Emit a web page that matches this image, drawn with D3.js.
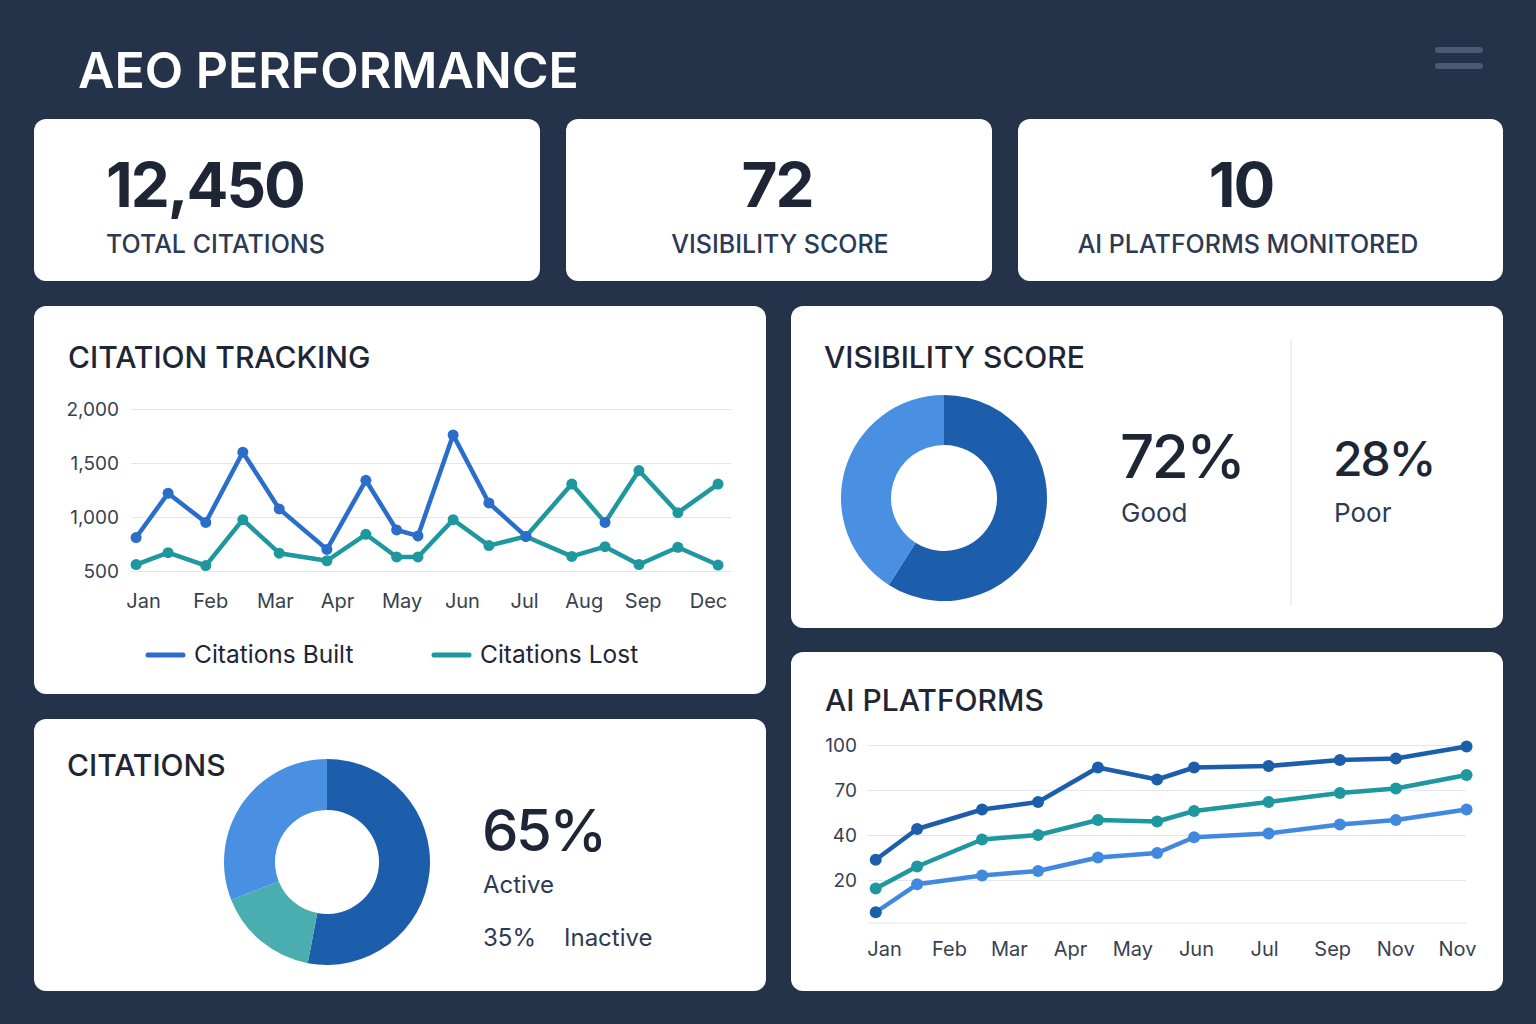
<!DOCTYPE html>
<html>
<head>
<meta charset="utf-8">
<script src="https://cdn.jsdelivr.net/npm/d3@7"></script>
<style>
  html, body { margin: 0; padding: 0; background: #24324a; }
  svg { display: block; font-family: Inter, "Noto Sans", sans-serif; }
</style>
</head>
<body>
<div id="dash"></div>
<script>
// ---- data ----
const kpiValues = ["12,450", "72", "10"];
const kpiLabels = ["TOTAL CITATIONS", "VISIBILITY SCORE", "AI PLATFORMS MONITORED"];

const trackMonths = ["Jan", "Feb", "Mar", "Apr", "May", "Jun", "Jul", "Aug", "Sep", "Dec"];
// label and point positions, measured in month-label steps
const trackMonthPos = [0, 1.07, 2.10, 3.09, 4.12, 5.08, 6.07, 7.02, 7.96, 9];
const trackPos = [-0.11, 0.40, 1.00, 1.59, 2.17, 2.93, 3.55, 4.04, 4.38, 4.94, 5.51, 6.10, 6.83, 7.36, 7.90, 8.52, 9.16];
const trackTicks = [500, 1000, 1500, 2000];
const citationsBuilt = [810, 1220, 950, 1600, 1075, 700, 1340, 880, 825, 1760, 1130, 820, 1305, 950, 1430, 1040, 1305];
const citationsLost = [560, 670, 550, 975, 665, 595, 840, 630, 630, 975, 735, 820, 635, 725, 560, 720, 555];
const trackSeries = ["Citations Built", "Citations Lost"];

const visibilitySlices = [59, 41];
const visibilityPct = ["72%", "28%"];
const visibilityNames = ["Good", "Poor"];

const citationSlices = [53, 16, 31];
const citationPct = ["65%", "35%"];
const citationNames = ["Active", "Inactive"];

const platformMonths = ["Jan", "Feb", "Mar", "Apr", "May", "Jun", "Jul", "Sep", "Nov", "Nov"];
const platformMonthPos = [0, 1.02, 1.96, 2.92, 3.90, 4.90, 5.97, 7.04, 8.03, 9];
const platformPos = [-0.13, 0.52, 1.54, 2.42, 3.36, 4.29, 4.87, 6.04, 7.16, 8.04, 9.15];
const platformTicks = [20, 40, 70, 100];
const platformA = [29, 44, 57, 62, 85, 77, 85, 86, 90, 91, 99];
const platformB = [16, 26, 38, 40, 50, 49, 56, 62, 68, 71, 80];
const platformC = [5, 18, 22, 24, 30, 32, 39, 41, 47, 50, 57];

// ---- colours ----
const C = {
  bg: "#24324a",
  card: "#ffffff",
  ink: "#1e2635",
  sub: "#2c3a55",
  axis: "#39414f",
  grid: "#e2e6ee",
  blue: "#2a6dcb",
  teal: "#1f979f",
  dark: "#1d5eac",
  light: "#4a90e2",
  aqua: "#4aaeb1",
  lineLight: "#4189df"
};

const W = 1536, H = 1024;
const svg = d3.select("#dash").append("svg").attr("width", W).attr("height", H);
svg.append("rect").attr("width", W).attr("height", H).attr("fill", C.bg);

// header
svg.append("text").attr("x", 78).attr("y", 88)
  .attr("fill", "#ffffff").attr("font-size", 50).attr("font-weight", 600)
  .text("AEO PERFORMANCE");
[47, 63].forEach(y => {
  svg.append("rect").attr("x", 1435).attr("y", y).attr("width", 48).attr("height", 6)
    .attr("rx", 3).attr("fill", "#4a5a75");
});

function card(x, y, w, h) {
  const g = svg.append("g").attr("transform", `translate(${x},${y})`);
  g.append("rect").attr("width", w).attr("height", h).attr("rx", 12).attr("fill", C.card);
  return g;
}

// ---- KPI cards ----
const kpiBoxes = [
  { x: 34, w: 506, anchor: "start", tx: 72, lx: 72 },
  { x: 566, w: 426, anchor: "middle", tx: 211, lx: 214 },
  { x: 1018, w: 485, anchor: "middle", tx: 223, lx: 230 }
];
kpiBoxes.forEach((b, i) => {
  const g = card(b.x, 119, b.w, 162);
  g.append("text").attr("x", b.tx).attr("y", 88).attr("text-anchor", b.anchor)
    .attr("fill", C.ink).attr("font-size", 62).attr("font-weight", 700)
    .attr("letter-spacing", -2).text(kpiValues[i]);
  g.append("text").attr("x", b.lx).attr("y", 134).attr("text-anchor", b.anchor)
    .attr("fill", C.sub).attr("font-size", 25).attr("font-weight", 500)
    .text(kpiLabels[i]);
});

function cardTitle(g, x, y, label) {
  g.append("text").attr("x", x).attr("y", y).attr("fill", C.ink)
    .attr("font-size", 30).attr("font-weight", 500).text(label);
}

function styleAxis(g, size) {
  g.select(".domain").remove();
  g.selectAll(".tick text").attr("fill", C.axis).attr("font-size", size)
    .attr("font-family", "Inter, 'Noto Sans', sans-serif");
}

// ---- Citation tracking ----
{
  const g = card(34, 306, 732, 388);
  cardTitle(g, 34, 62, "CITATION TRACKING");

  const x = d3.scaleLinear().domain([0, 9]).range([109, 674]);
  const y = d3.scaleLinear().domain([500, 2000]).range([265, 103]);

  g.append("g").attr("transform", "translate(97,0)")
    .call(d3.axisLeft(y).tickValues(trackTicks).tickFormat(d3.format(",")).tickSize(-600).tickPadding(12))
    .call(a => { styleAxis(a, 19); a.selectAll(".tick line").attr("stroke", C.grid).attr("stroke-width", 1.2); });

  g.append("g").attr("transform", "translate(0,280)")
    .call(d3.axisBottom(x).tickValues(trackMonthPos)
      .tickFormat((d, i) => trackMonths[i]).tickSize(0).tickPadding(8))
    .call(a => styleAxis(a, 20));

  const pts = arr => arr.map((v, i) => [x(trackPos[i]), y(v)]);
  const lost = pts(citationsLost);
  const built = pts(citationsBuilt);
  const split = 11; // after Jul the upper trace is drawn teal
  const line = d3.line();

  g.append("path").attr("d", line(lost)).attr("fill", "none").attr("stroke", C.teal)
    .attr("stroke-width", 4.5).attr("stroke-linejoin", "round");
  g.append("path").attr("d", line(built.slice(0, split + 1))).attr("fill", "none")
    .attr("stroke", C.blue).attr("stroke-width", 4.5).attr("stroke-linejoin", "round");
  g.append("path").attr("d", line(built.slice(split))).attr("fill", "none")
    .attr("stroke", C.teal).attr("stroke-width", 4.5).attr("stroke-linejoin", "round");

  g.selectAll(".lost").data(lost).enter().append("circle")
    .attr("cx", d => d[0]).attr("cy", d => d[1]).attr("r", 5.5).attr("fill", C.teal);
  g.selectAll(".built").data(built).enter().append("circle")
    .attr("cx", d => d[0]).attr("cy", d => d[1]).attr("r", 5.5)
    .attr("fill", (d, i) => (i <= split || i === 13) ? C.blue : C.teal);

  const legendX = [114, 400];
  [C.blue, C.teal].forEach((col, i) => {
    g.append("line").attr("x1", legendX[i]).attr("x2", legendX[i] + 35)
      .attr("y1", 349).attr("y2", 349).attr("stroke", col)
      .attr("stroke-width", 5).attr("stroke-linecap", "round");
    g.append("text").attr("x", legendX[i] + 46).attr("y", 357)
      .attr("fill", C.ink).attr("font-size", 24.5).text(trackSeries[i]);
  });
}

// ---- Visibility score ----
{
  const g = card(791, 306, 712, 322);
  cardTitle(g, 33, 62, "VISIBILITY SCORE");

  const pie = d3.pie().sort(null);
  const arc = d3.arc().innerRadius(53).outerRadius(103);
  g.append("g").attr("transform", "translate(153,192)")
    .selectAll("path").data(pie(visibilitySlices)).enter().append("path")
    .attr("d", arc).attr("fill", (d, i) => [C.dark, C.light][i]);

  g.append("line").attr("x1", 500).attr("x2", 500).attr("y1", 34).attr("y2", 300)
    .attr("stroke", C.grid).attr("stroke-width", 1.2);

  const cols = [{ x: 329, size: 60, y: 172, ls: -2.5 }, { x: 542, size: 48, y: 170, ls: -2 }];
  cols.forEach((c, i) => {
    g.append("text").attr("x", c.x).attr("y", c.y).attr("fill", C.ink)
      .attr("font-size", c.size).attr("font-weight", 500).attr("letter-spacing", c.ls)
      .text(visibilityPct[i]);
    g.append("text").attr("x", c.x + 1).attr("y", 216).attr("fill", C.sub)
      .attr("font-size", 26).text(visibilityNames[i]);
  });
}

// ---- Citations donut ----
{
  const g = card(34, 719, 732, 272);
  cardTitle(g, 33, 57, "CITATIONS");

  const pie = d3.pie().sort(null);
  const arc = d3.arc().innerRadius(52).outerRadius(103);
  g.append("g").attr("transform", "translate(293,143)")
    .selectAll("path").data(pie(citationSlices)).enter().append("path")
    .attr("d", arc).attr("fill", (d, i) => [C.dark, C.aqua, C.light][i]);

  g.append("text").attr("x", 448).attr("y", 132).attr("fill", C.ink)
    .attr("font-size", 58).attr("font-weight", 500).attr("letter-spacing", -2.5)
    .text(citationPct[0]);
  g.append("text").attr("x", 449).attr("y", 174).attr("fill", C.sub)
    .attr("font-size", 24).text(citationNames[0]);
  g.append("text").attr("x", 449).attr("y", 227).attr("fill", C.sub)
    .attr("font-size", 24).text(citationPct[1]);
  g.append("text").attr("x", 530).attr("y", 227).attr("fill", C.sub)
    .attr("font-size", 24).text(citationNames[1]);
}

// ---- AI platforms ----
{
  const g = card(791, 652, 712, 339);
  cardTitle(g, 34, 59, "AI PLATFORMS");

  const x = d3.scaleLinear().domain([0, 9]).range([93, 666]);
  // the axis spaces its ticks evenly, so the scale is piecewise
  const y = d3.scaleLinear().domain([0, 20, 40, 70, 100]).range([271, 228, 183, 138, 93]);

  g.append("g").attr("transform", "translate(77,0)")
    .call(d3.axisLeft(y).tickValues(platformTicks).tickSize(-598).tickPadding(11))
    .call(a => { styleAxis(a, 19); a.selectAll(".tick line").attr("stroke", C.grid).attr("stroke-width", 1.2); });
  g.append("line").attr("x1", 77).attr("x2", 675).attr("y1", y(0)).attr("y2", y(0))
    .attr("stroke", C.grid).attr("stroke-width", 1.2);

  g.append("g").attr("transform", "translate(0,282)")
    .call(d3.axisBottom(x).tickValues(platformMonthPos)
      .tickFormat((d, i) => platformMonths[i]).tickSize(0).tickPadding(8))
    .call(a => styleAxis(a, 20));

  const line = d3.line();
  [[platformC, C.lineLight], [platformB, C.teal], [platformA, C.dark]].forEach(([vals, col]) => {
    const p = vals.map((v, i) => [x(platformPos[i]), y(v)]);
    g.append("path").attr("d", line(p)).attr("fill", "none").attr("stroke", col)
      .attr("stroke-width", 4.5).attr("stroke-linejoin", "round");
    g.selectAll(null).data(p).enter().append("circle")
      .attr("cx", d => d[0]).attr("cy", d => d[1]).attr("r", 6)
      .attr("fill", (d, i) => (vals === platformC && i === 0) ? C.dark : col);
  });
}
</script>
</body>
</html>
